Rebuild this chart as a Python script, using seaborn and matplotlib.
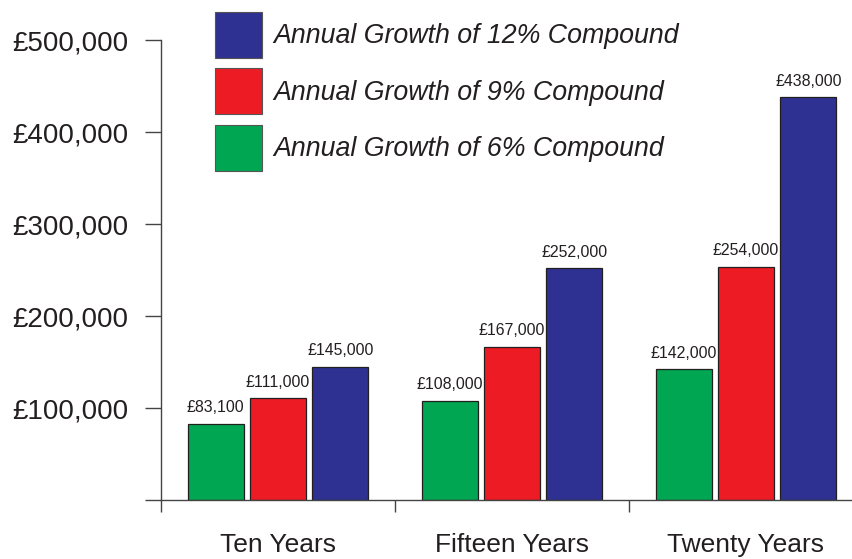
import matplotlib
matplotlib.use("Agg")
import matplotlib.pyplot as plt
from matplotlib.patches import Patch
from matplotlib.ticker import FixedLocator
import seaborn as sns
import pandas as pd

periods = ["Ten Years", "Fifteen Years", "Twenty Years"]
rates = ["Annual Growth of 6% Compound", "Annual Growth of 9% Compound", "Annual Growth of 12% Compound"]
growth_6 = [83100, 108000, 142000]
growth_9 = [111000, 167000, 254000]
growth_12 = [145000, 252000, 438000]
yticks = [0, 100000, 200000, 300000, 400000, 500000]
ytick_labels = ["", "£100,000", "£200,000", "£300,000", "£400,000", "£500,000"]
colors = ["#00A651", "#ED1C24", "#2E3192"]

rows = []
for r, vals in zip(rates, [growth_6, growth_9, growth_12]):
    for p, v in zip(periods, vals):
        rows.append({"period": p, "rate": r, "value": v})
df = pd.DataFrame(rows)

sns.set_style("white")
plt.rcParams["font.family"] = ["Liberation Sans", "DejaVu Sans"]
ink = "#231F20"

fig = plt.figure(figsize=(8.52, 5.59), dpi=100)
ax = fig.add_axes([161 / 852, 59 / 559, 691 / 852, 500 / 559])

sns.barplot(data=df, x="period", y="value", hue="rate", order=periods,
            hue_order=rates, palette=colors, width=0.8, gap=0.1,
            edgecolor=ink, linewidth=0.9, saturation=1, legend=False, ax=ax,
            errorbar=None)

for cont, vals in zip(ax.containers, [growth_6, growth_9, growth_12]):
    ax.bar_label(cont, labels=[f"£{v:,}" for v in vals], padding=6,
                 fontsize=11.4, color=ink)

ax.set_xlim(-0.5, 2.453)
ax.set_ylim(0, 544000)
ax.set_yticks(yticks)
ax.set_yticklabels(ytick_labels, fontsize=20, color=ink)
ax.tick_params(axis="y", which="major", length=11.5, width=1, color="#444444",
               pad=12, left=True)
ax.set_xticks(range(3))
ax.set_xticklabels(periods, fontsize=19, color=ink)
ax.xaxis.set_minor_locator(FixedLocator([-0.5, 0.5, 1.5]))
ax.tick_params(axis="x", which="major", length=0, pad=24)
ax.tick_params(axis="x", which="minor", length=8.6, width=1, color="#444444",
               direction="out", bottom=True)
ax.set_xlabel("")
ax.set_ylabel("")

for s in ["top", "right"]:
    ax.spines[s].set_visible(False)
ax.spines["left"].set_bounds(0, 500000)
ax.spines["left"].set_color("#444444")
ax.spines["bottom"].set_color("#444444")
ax.spines["left"].set_linewidth(1)
ax.spines["bottom"].set_linewidth(1)

handles = [Patch(facecolor=c, edgecolor="#555555", linewidth=0.8) for c in colors]
fs = 19.3
fig.legend(handles[::-1], rates[::-1], loc="upper left",
           bbox_to_anchor=(215 / 852, 1 - 12 / 559), frameon=False,
           borderpad=0, borderaxespad=0, handlelength=1.75, handleheight=2.26,
           labelspacing=0.39, handletextpad=0.41,
           prop={"size": fs, "style": "italic", "family": ["Liberation Sans", "DejaVu Sans"]},
           labelcolor=ink)

fig.savefig("out.png", dpi=100)
